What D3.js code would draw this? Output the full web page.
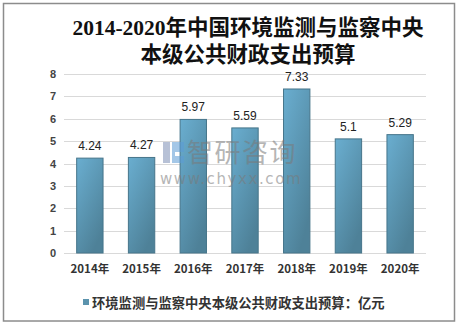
<!DOCTYPE html>
<html>
<head>
<meta charset="utf-8">
<script src="https://cdn.jsdelivr.net/npm/d3@7/dist/d3.min.js"></script>
<style>
  html, body { margin: 0; padding: 0; background: #fff; }
  svg { display: block; }
</style>
</head>
<body>
<svg id="chart" width="459" height="327"></svg>
<script>
// Chart data
const years = ["2014年", "2015年", "2016年", "2017年", "2018年", "2019年", "2020年"];
const budget = [4.24, 4.27, 5.97, 5.59, 7.33, 5.1, 5.29];
const yTicks = [0, 1, 2, 3, 4, 5, 6, 7, 8];
const titleLines = ["2014-2020年中国环境监测与监察中央", "本级公共财政支出预算"];
const legendLabel = "环境监测与监察中央本级公共财政支出预算：亿元";

const svg = d3.select("#chart");
const W = 459, H = 327;
const margin = { left: 64, right: 33, top: 74, bottom: 74 };
const plotW = W - margin.left - margin.right;
const plotH = H - margin.top - margin.bottom;

// outer frame
svg.append("rect")
  .attr("x", 3.5).attr("y", 3.5)
  .attr("width", 451).attr("height", 317.5)
  .attr("fill", "#fff")
  .attr("stroke", "#8c8c8c").attr("stroke-width", 1.5);

// title
const title = svg.append("text")
  .attr("text-anchor", "middle")
  .attr("font-family", "'Liberation Serif', 'Noto Sans CJK SC', serif")
  .attr("font-weight", "bold")
  .attr("font-size", 21.5)
  .attr("fill", "#111");
titleLines.forEach((t, i) => {
  title.append("tspan").attr("x", 248).attr("y", 35 + i * 27).text(t);
});

const defs = svg.append("defs");
const grad = defs.append("linearGradient")
  .attr("id", "barGrad")
  .attr("x1", "0").attr("y1", "0").attr("x2", "0.6").attr("y2", "1");
grad.append("stop").attr("offset", "0").attr("stop-color", "#6aaed0");
grad.append("stop").attr("offset", "1").attr("stop-color", "#4e8198");

const g = svg.append("g").attr("transform", `translate(${margin.left},${margin.top})`);

const x = d3.scaleBand().domain(years).range([0, plotW]).paddingInner(0.49).paddingOuter(0.245);
const y = d3.scaleLinear().domain([0, 8]).range([plotH, 0]);

// gridlines
g.append("g")
  .selectAll("line")
  .data(yTicks)
  .join("line")
  .attr("x1", 0).attr("x2", plotW)
  .attr("y1", d => Math.round(y(d)) + 0.5).attr("y2", d => Math.round(y(d)) + 0.5)
  .attr("stroke", "#d9d9d9").attr("stroke-width", 1);

// y axis labels
const yAxis = g.append("g")
  .call(d3.axisLeft(y).tickValues(yTicks).tickFormat(d3.format("d")).tickSize(0).tickPadding(8));
yAxis.select(".domain").remove();
yAxis.selectAll("text")
  .attr("font-family", "'Liberation Sans', Arial, sans-serif")
  .attr("font-weight", "bold")
  .attr("font-size", 11)
  .attr("fill", "#444");

// bars
g.append("g")
  .selectAll("rect")
  .data(budget)
  .join("rect")
  .attr("x", (d, i) => x(years[i]))
  .attr("y", d => y(d))
  .attr("width", x.bandwidth())
  .attr("height", d => plotH - y(d))
  .attr("fill", "url(#barGrad)")
  .attr("stroke", "#46758a").attr("stroke-width", 1);

// value labels
g.append("g")
  .selectAll("text")
  .data(budget)
  .join("text")
  .attr("x", (d, i) => x(years[i]) + x.bandwidth() / 2)
  .attr("y", d => y(d) - 8)
  .attr("text-anchor", "middle")
  .attr("font-family", "'Liberation Sans', Arial, sans-serif")
  .attr("font-size", 12)
  .attr("fill", "#222")
  .text(d => d);

// x axis labels
const xAxis = g.append("g")
  .attr("transform", `translate(0,${plotH})`)
  .call(d3.axisBottom(x).tickSize(0).tickPadding(12));
xAxis.select(".domain").remove();
xAxis.selectAll("text")
  .attr("font-family", "'Noto Sans CJK SC', sans-serif")
  .attr("font-weight", "bold")
  .attr("font-size", 11.5)
  .attr("fill", "#333");

// watermark
const wm = svg.append("g").attr("opacity", 0.55);
wm.append("rect").attr("x", 163).attr("y", 142).attr("width", 7).attr("height", 21).attr("fill", "#7d8fb5");
wm.append("path").attr("d", "M172,142 h12 v10 h-9 v4 h9 v7 h-12 z").attr("fill", "#5b9bd5");
wm.append("text")
  .attr("x", 187).attr("y", 162)
  .attr("font-family", "'Noto Sans CJK SC', sans-serif")
  .attr("font-size", 26)
  .attr("fill", "#7a7a7a")
  .attr("letter-spacing", 1.5)
  .text("智研咨询");
wm.append("text")
  .attr("x", 160).attr("y", 184)
  .attr("font-family", "'DejaVu Sans', sans-serif")
  .attr("font-size", 15)
  .attr("fill", "#7a7a7a")
  .attr("letter-spacing", 1.6)
  .text("www.chyxx.com");

// legend
svg.append("rect")
  .attr("x", 83).attr("y", 299).attr("width", 6).attr("height", 6)
  .attr("fill", "#5b93ad");
svg.append("text")
  .attr("x", 92).attr("y", 307.5)
  .attr("font-family", "'Noto Sans CJK SC', sans-serif")
  .attr("font-weight", "bold")
  .attr("font-size", 13.3)
  .attr("fill", "#333")
  .text(legendLabel);
</script>
</body>
</html>
